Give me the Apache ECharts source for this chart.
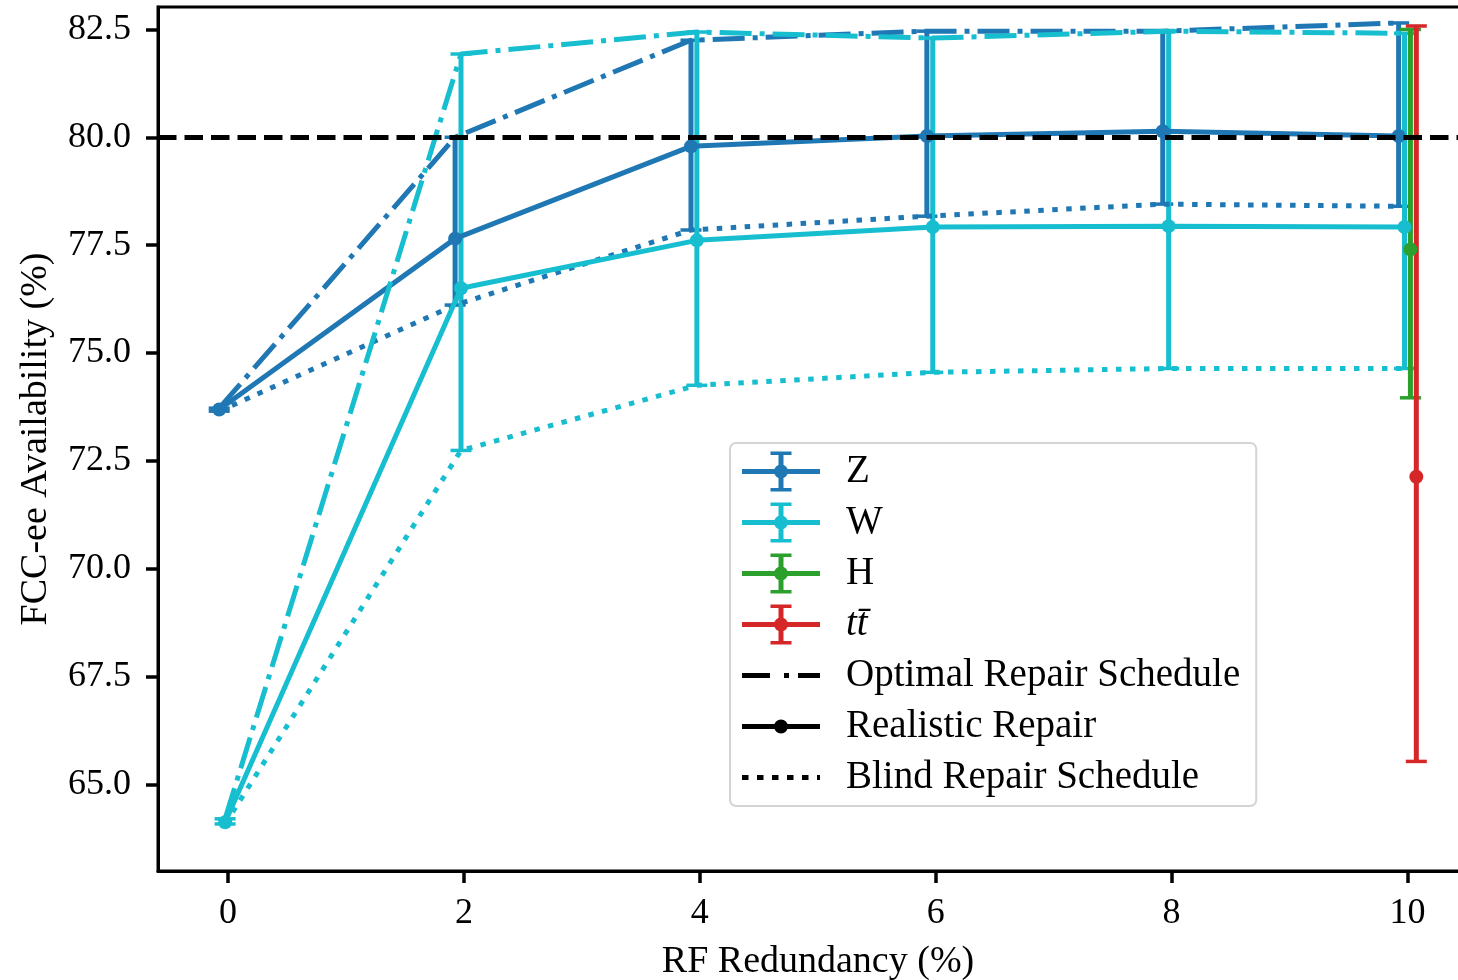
<!DOCTYPE html>
<html>
<head>
<meta charset="utf-8">
<script src="https://cdn.jsdelivr.net/npm/echarts@6/dist/echarts.min.js"></script>
<style>
  html, body { margin: 0; padding: 0; background: #fff; overflow: hidden; }
  #chart { width: 1490px; height: 980px; }
</style>
</head>
<body>
<div id="chart"></div>
<script>
// RF redundancy (%) and tick values
var redundancy = [0, 2, 4, 6, 8, 10];
var xTicks = [0, 2, 4, 6, 8, 10];
var yTicks = [65, 67.5, 70, 72.5, 75, 77.5, 80, 82.5];

// Z
var zRealistic = [73.69, 77.65, 79.79, 80.03, 80.14, 80.03];
var zOptimal   = [73.72, 80.00, 82.25, 82.46, 82.46, 82.65];
var zBlind     = [73.65, 76.11, 77.85, 78.17, 78.45, 78.40];
// W
var wRealistic = [64.12, 76.50, 77.61, 77.92, 77.94, 77.92];
var wOptimal   = [64.20, 81.93, 82.44, 82.30, 82.46, 82.41];
var wBlind     = [64.08, 72.74, 74.25, 74.55, 74.64, 74.64];
// H and ttbar (only at 10 %)
var hRedundancy = [10];
var hRealistic = [77.40];
var hOptimal   = [82.50];
var hBlind     = [73.96];
var ttRedundancy = [10];
var ttRealistic = [72.13];
var ttOptimal   = [82.58];
var ttBlind     = [65.53];

var target = 80;

var FONT = 'Liberation Serif';
var DASHDOT = [32, 8, 5, 8];
var DOTTED = [5.5, 8.5];

// legend glyphs
var ICON_ERR = 'path://M0 17.5H78V22.5H0Z M36.5 0H41.5V40H36.5Z M28.5 0H49.5V3.5H28.5Z M28.5 36.5H49.5V40H28.5Z M32 20A7 7 0 1 1 46 20A7 7 0 1 1 32 20Z';
var ICON_DASHDOT = 'path://M0 17.5H28V22.5H0Z M42 17.5H47V22.5H42Z M56 17.5H78V22.5H56Z';
var ICON_SOLID = 'path://M0 17.5H78V22.5H0Z M32 20A7 7 0 1 1 46 20A7 7 0 1 1 32 20Z';
var ICON_DOT = 'path://M0 17.5H6.5V22.5H0Z M15 17.5H21.5V22.5H15Z M30 17.5H36.5V22.5H30Z M45 17.5H51.5V22.5H45Z M60 17.5H66.5V22.5H60Z M75 17.5H78V22.5H75Z';

function pairs(xs, ys, off) {
  return xs.map(function (x, i) { return [x + off, ys[i]]; });
}
function bars(xs, lo, hi, off) {
  return xs.map(function (x, i) { return [x + off, lo[i], hi[i]]; });
}

function errorBar(params, api) {
  var x = api.value(0);
  var top = api.coord([x, api.value(2)]);
  var bot = api.coord([x, api.value(1)]);
  var c = api.visual('color');
  var cap = 10.5;
  return {
    type: 'group',
    children: [
      { type: 'line', shape: { x1: top[0], y1: top[1], x2: bot[0], y2: bot[1] }, style: { stroke: c, lineWidth: 5 } },
      { type: 'line', shape: { x1: top[0] - cap, y1: top[1], x2: top[0] + cap, y2: top[1] }, style: { stroke: c, lineWidth: 3.5 } },
      { type: 'line', shape: { x1: bot[0] - cap, y1: bot[1], x2: bot[0] + cap, y2: bot[1] }, style: { stroke: c, lineWidth: 3.5 } }
    ]
  };
}

function group(name, color, xs, real, opt, blind, off) {
  return [
    {
      name: name + ' err', type: 'custom', renderItem: errorBar,
      itemStyle: { color: color }, data: bars(xs, blind, opt, off), z: 3
    },
    {
      name: name, type: 'line', data: pairs(xs, real, off), color: color,
      symbol: 'circle', symbolSize: 14, showAllSymbol: true,
      lineStyle: { width: 5, color: color }, itemStyle: { color: color }, z: 3
    },
    {
      name: name + ' optimal', type: 'line', data: pairs(xs, opt, off), color: color,
      symbol: 'none', lineStyle: { width: 5, color: color, type: DASHDOT, cap: 'butt' }, z: 3
    },
    {
      name: name + ' blind', type: 'line', data: pairs(xs, blind, off), color: color,
      symbol: 'none', lineStyle: { width: 5, color: color, type: DOTTED, cap: 'butt' }, z: 3
    }
  ];
}

var series = [].concat(
  group('Z', '#1f77b4', redundancy, zRealistic, zOptimal, zBlind, -0.075),
  group('W', '#17becf', redundancy, wRealistic, wOptimal, wBlind, -0.025),
  group('H', '#2ca02c', hRedundancy, hRealistic, hOptimal, hBlind, 0.025),
  group('t\u0074\u0304', '#d62728', ttRedundancy, ttRealistic, ttOptimal, ttBlind, 0.075),
  [
    {
      name: 'target', type: 'line', data: [], z: 2,
      markLine: {
        silent: true, symbol: 'none', label: { show: false },
        lineStyle: { color: '#000', width: 5, type: [18.5, 8], cap: 'butt' },
        data: [{ yAxis: target }]
      }
    },
    { name: 'Optimal Repair Schedule', type: 'line', data: [], color: '#000' },
    { name: 'Realistic Repair', type: 'line', data: [], color: '#000' },
    { name: 'Blind Repair Schedule', type: 'line', data: [], color: '#000' }
  ]
);

var chart = echarts.init(document.getElementById('chart'), null, { renderer: 'canvas' });
chart.setOption({
  animation: false,
  backgroundColor: '#fff',
  textStyle: { fontFamily: FONT },
  grid: {
    left: 158, top: 7, width: 1320, height: 864,
    outerBoundsMode: 'none', containLabel: false,
    show: true, borderColor: '#000', borderWidth: 3, backgroundColor: 'transparent'
  },
  xAxis: {
    type: 'value', min: -0.594, max: 10.598,
    name: 'RF Redundancy (%)', nameLocation: 'middle', nameGap: 72,
    nameTextStyle: { fontFamily: FONT, fontSize: 38, color: '#000' },
    axisLine: { show: true, onZero: false, lineStyle: { color: '#000', width: 3 } },
    axisTick: { show: true, length: 12, lineStyle: { color: '#000', width: 3.5 }, customValues: xTicks },
    axisLabel: { fontFamily: FONT, fontSize: 36, color: '#000', margin: 25, customValues: xTicks,
      formatter: function (v) { return String(v); } },
    splitLine: { show: false }
  },
  yAxis: {
    type: 'value', min: 62.99, max: 83.02,
    name: 'FCC-ee Availability (%)', nameLocation: 'middle', nameGap: 103,
    nameTextStyle: { fontFamily: FONT, fontSize: 38, color: '#000' },
    axisLine: { show: true, onZero: false, lineStyle: { color: '#000', width: 3 } },
    axisTick: { show: true, length: 12, lineStyle: { color: '#000', width: 3.5 }, customValues: yTicks },
    axisLabel: { fontFamily: FONT, fontSize: 36, color: '#000', margin: 27, customValues: yTicks,
      formatter: function (v) { return v.toFixed(1); } },
    splitLine: { show: false }
  },
  legend: {
    orient: 'vertical', left: 730, top: 443,
    padding: [3, 16, 3, 12], itemGap: 0, itemWidth: 78, itemHeight: 40,
    backgroundColor: '#fff', borderColor: '#d4d4d4', borderWidth: 2, borderRadius: 6,
    selectedMode: false,
    itemStyle: { borderWidth: 0 },
    textStyle: { fontFamily: FONT, fontSize: 39, lineHeight: 51, color: '#000', padding: [0, 0, 0, 21] },
    data: [
      { name: 'Z', icon: ICON_ERR },
      { name: 'W', icon: ICON_ERR },
      { name: 'H', icon: ICON_ERR },
      { name: 't\u0074\u0304', icon: ICON_ERR, textStyle: { fontStyle: 'italic' } },
      { name: 'Optimal Repair Schedule', icon: ICON_DASHDOT },
      { name: 'Realistic Repair', icon: ICON_SOLID },
      { name: 'Blind Repair Schedule', icon: ICON_DOT }
    ]
  },
  series: series
});
</script>
</body>
</html>
